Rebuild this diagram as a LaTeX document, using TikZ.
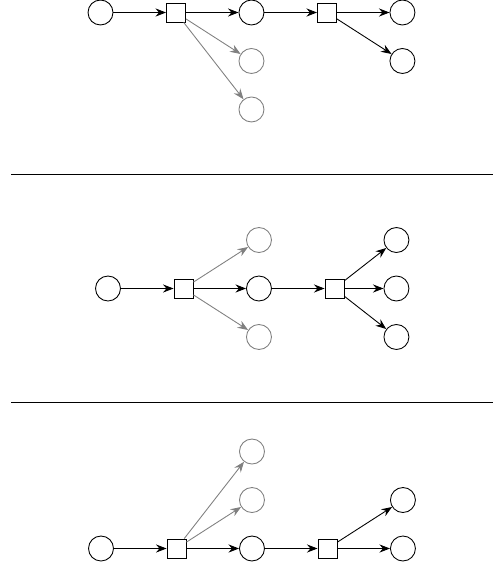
\documentclass[tikz,border=0pt]{standalone}
\usepackage{xcolor}
\usepackage{tikz}
\usetikzlibrary{arrows.meta, positioning}

\begin{document}
\begin{tikzpicture}[
  x=0.02cm, y=-0.02cm,
  line width=0.5pt,
  place/.style={circle, draw, inner sep=0pt, minimum size=0.5cm},
  trans/.style={rectangle, draw, inner sep=0pt, minimum size=0.38cm},
  faded/.style={draw=gray},
  on grid, node distance=0.97cm and 1.51cm,
  >={Stealth[length=6pt, width=4.6pt, inset=2pt]}
]
\useasboundingbox (0,0) rectangle (497,568);

% first row
\node[place] (a1) at (100.5,12.5) {};
\node[trans, right=of a1] (a2) {};
\node[place, right=of a2] (a3) {};
\node[trans, right=of a3] (a4) {};
\node[place, right=of a4] (a5) {};
\node[place, below=of a5] (a6) {};
\node[place, faded, below=of a3] (a7) {};
\node[place, faded, below=of a7] (a8) {};

\draw[->] (a1) -- (a2);
\draw[->] (a2) -- (a3);
\draw[->] (a3) -- (a4);
\draw[->] (a4) -- (a5);
\draw[->] (a4) -- (a6);
\draw[->, gray] (a2) -- (a7);
\draw[->, gray] (a2) -- (a8);

\coordinate (s1l) at (11,174);
\coordinate (s1r) at (493,174);
\draw (s1l) -- (s1r);

% second row
\node[place] (b1) at (108,288.5) {};
\node[trans, right=of b1] (b2) {};
\node[place, right=of b2] (b3) {};
\node[trans, right=of b3] (b4) {};
\node[place, right=1.24cm of b4] (b5) {};
\node[place, above=of b5] (b6) {};
\node[place, below=of b5] (b7) {};
\node[place, faded, above=of b3] (b8) {};
\node[place, faded, below=of b3] (b9) {};

\draw[->] (b1) -- (b2);
\draw[->] (b2) -- (b3);
\draw[->] (b3) -- (b4);
\draw[->] (b4) -- (b5);
\draw[->] (b4) -- (b6);
\draw[->] (b4) -- (b7);
\draw[->, gray] (b2) -- (b8);
\draw[->, gray] (b2) -- (b9);

\coordinate (s2l) at (11,402.5);
\coordinate (s2r) at (493,402.5);
\draw (s2l) -- (s2r);

% third row
\node[place] (c1) at (101,548.5) {};
\node[trans, right=of c1] (c2) {};
\node[place, right=of c2] (c3) {};
\node[trans, right=of c3] (c4) {};
\node[place, right=of c4] (c5) {};
\node[place, above=of c5] (c6) {};
\node[place, faded, above=of c3] (c7) {};
\node[place, faded, above=of c7] (c8) {};

\draw[->] (c1) -- (c2);
\draw[->] (c2) -- (c3);
\draw[->] (c3) -- (c4);
\draw[->] (c4) -- (c5);
\draw[->] (c4) -- (c6);
\draw[->, gray] (c2) -- (c7);
\draw[->, gray] (c2) -- (c8);
\end{tikzpicture}
\end{document}
